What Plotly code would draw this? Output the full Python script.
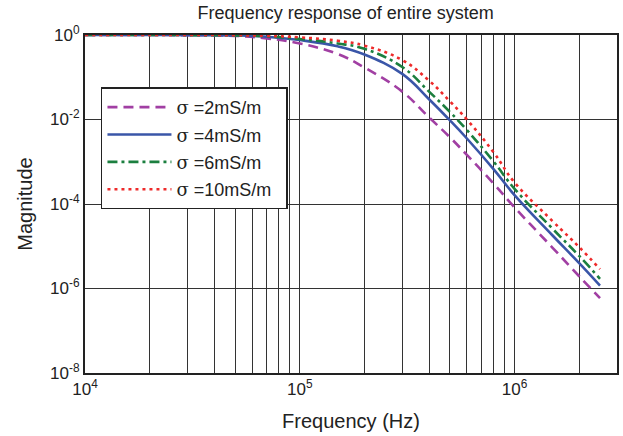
import plotly.graph_objects as go

freq = [1e4, 2e4, 3e4, 5e4, 7e4, 1e5, 1.5e5, 2e5, 3e5, 4e5, 5e5, 6e5, 8e5,
        1e6, 1.5e6, 2e6, 2.5e6]

mag_2 = [1.0, 1.0, 0.9886, 0.955, 0.832, 0.631, 0.355, 0.170, 0.0457, 0.0112,
         3.80e-3, 1.45e-3, 3.02e-4, 8.32e-5, 9.33e-6, 1.95e-6, 5.89e-7]
mag_4 = [1.0, 1.0, 0.993, 0.977, 0.912, 0.759, 0.540, 0.345, 0.120, 0.0302,
         9.55e-3, 3.55e-3, 6.61e-4, 1.62e-4, 1.82e-5, 3.98e-6, 1.17e-6]
mag_6 = [1.0, 1.0, 0.995, 0.982, 0.933, 0.804, 0.630, 0.470, 0.175, 0.0457,
         0.0151, 5.62e-3, 1.0e-3, 2.29e-4, 2.63e-5, 5.89e-6, 1.70e-6]
mag_10 = [1.0, 1.0, 0.998, 0.989, 0.955, 0.881, 0.730, 0.560, 0.255, 0.0832,
          0.0269, 0.01, 1.66e-3, 3.24e-4, 3.98e-5, 9.55e-6, 2.88e-6]

sig = "<span style='font-family:DejaVu Serif'>σ</span>"
pad = "\u00a0\u00a0"
labels = [sig + " =2mS/m" + pad, sig + " =4mS/m" + pad, sig + " =6mS/m" + pad,
          sig + " =10mS/m" + pad]
colors = ["#A13FA3", "#3A56A8", "#1B7F3F", "#EE2A2A"]
dashes = ["10px,6px", "solid", "10px,4px,3px,4px", "3px,4px"]
series = [mag_2, mag_4, mag_6, mag_10]

x_major = [1e4, 1e5, 1e6]
x_major_text = ["10<sup>4</sup>", "10<sup>5</sup>", "10<sup>6</sup>"]
y_major = [1e0, 1e-2, 1e-4, 1e-6, 1e-8]
y_major_text = ["10<sup>0</sup>", "10<sup>-2</sup>", "10<sup>-4</sup>",
                "10<sup>-6</sup>", "10<sup>-8</sup>"]

# grid positions at every 1..9 x decade
x_grid = []
x_grid_text = []
for dec in x_major:
    for m in range(1, 10):
        v = m * dec
        if v <= 3e6:
            x_grid.append(v)
            x_grid_text.append(x_major_text[x_major.index(dec)] if m == 1 else "")

fig = go.Figure()
for i, (lab, col, dsh, ys) in enumerate(zip(labels, colors, dashes, series)):
    fig.add_trace(go.Scatter(
        x=freq, y=ys, mode="lines", name=lab, legendgroup=f"g{i}",
        line=dict(color=col, width=2.6, dash=dsh, shape="spline", smoothing=1.2),
    ))

font_family = "Liberation Sans, Arial, sans-serif"
fig.update_layout(
    width=623, height=436,
    margin=dict(l=85, r=6, t=35, b=63, autoexpand=False),
    paper_bgcolor="white", plot_bgcolor="white",
    font=dict(family=font_family, size=17, color="#222"),
    title=dict(text="Frequency response of entire system", x=0.49, xanchor="center",
               xref="paper", y=0.972, yanchor="middle", font=dict(size=18, color="#222")),
    legend=dict(x=0.03, y=0.845, xanchor="left", yanchor="top",
                bgcolor="white", bordercolor="#222", borderwidth=1.5,
                font=dict(size=18, color="#222"), itemwidth=64,
                tracegroupgap=1, traceorder="grouped"),
    showlegend=True,
)
fig.update_xaxes(
    type="log", range=[4, 6.4771], tickmode="array", tickvals=x_grid,
    ticktext=x_grid_text, showgrid=True, gridcolor="#333", gridwidth=1,
    showline=True, linecolor="#222", linewidth=2, mirror=True, ticks="",
    zeroline=False, automargin=False, title=dict(text="Frequency (Hz)", standoff=16),
    tickfont=dict(size=17),
)
fig.update_yaxes(
    type="log", range=[-8, 0], tickmode="array", tickvals=y_major,
    ticktext=y_major_text, showgrid=True, gridcolor="#333", gridwidth=1,
    showline=True, linecolor="#222", linewidth=2, mirror=True, ticks="",
    zeroline=False, automargin=False, title=dict(text="Magnitude", standoff=12),
    tickfont=dict(size=17),
)
fig.write_html(
    "out.html",
    config={"displayModeBar": False},
    post_script="document.body.style.margin='0';document.body.style.overflow='hidden';",
)
